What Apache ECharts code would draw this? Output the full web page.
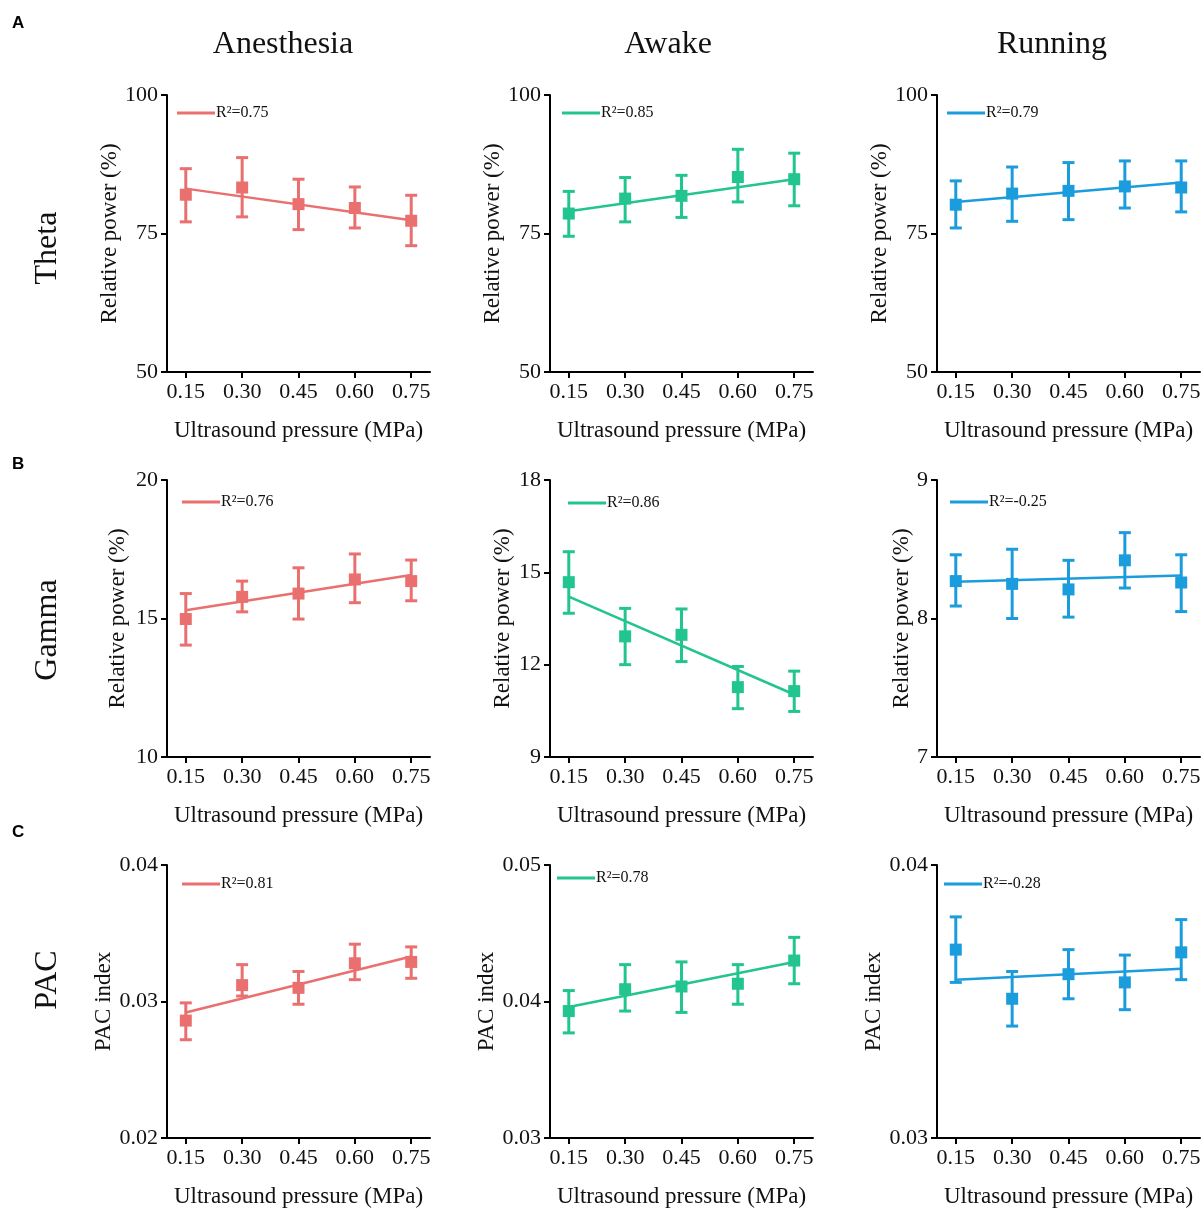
<!DOCTYPE html>
<html>
<head>
<meta charset="utf-8">
<script src="https://cdn.jsdelivr.net/npm/echarts@6/dist/echarts.min.js"></script>
<style>
html,body{margin:0;padding:0;background:#fff;}
#chart{width:1204px;height:1209px;}
</style>
</head>
<body>
<div id="chart"></div>
<script>
// ---------- data ----------
const xTicks = [0.15, 0.30, 0.45, 0.60, 0.75];
const colTitles = ['Anesthesia', 'Awake', 'Running'];
const rowTitles = ['Theta', 'Gamma', 'PAC'];
const panelLetters = ['A', 'B', 'C'];
const yAxisNames = ['Relative power (%)', 'Relative power (%)', 'PAC index'];

// Theta
const thetaAnesMean = [82.0, 83.3, 80.3, 79.6, 77.3];
const thetaAnesLow  = [77.1, 78.0, 75.7, 76.0, 72.8];
const thetaAnesHigh = [86.7, 88.7, 84.8, 83.4, 81.9];
const thetaAnesFit  = [83.1, 77.4];
const thetaAwakeMean = [78.6, 81.3, 81.8, 85.2, 84.8];
const thetaAwakeLow  = [74.5, 77.1, 77.9, 80.7, 80.0];
const thetaAwakeHigh = [82.6, 85.1, 85.5, 90.2, 89.5];
const thetaAwakeFit  = [79.0, 84.8];
const thetaRunMean = [80.2, 82.2, 82.7, 83.5, 83.3];
const thetaRunLow  = [76.0, 77.2, 77.5, 79.6, 78.9];
const thetaRunHigh = [84.5, 87.0, 87.8, 88.1, 88.1];
const thetaRunFit  = [80.7, 84.2];

// Gamma
const gammaAnesMean = [14.98, 15.78, 15.90, 16.41, 16.35];
const gammaAnesLow  = [14.04, 15.24, 14.98, 15.57, 15.64];
const gammaAnesHigh = [15.90, 16.35, 16.83, 17.33, 17.11];
const gammaAnesFit  = [15.30, 16.57];
const gammaAwakeMean = [14.68, 12.92, 12.97, 11.27, 11.14];
const gammaAwakeLow  = [13.67, 12.00, 12.10, 10.57, 10.48];
const gammaAwakeHigh = [15.67, 13.83, 13.81, 11.94, 11.79];
const gammaAwakeFit  = [14.21, 11.03];
const gammaRunMean = [8.27, 8.25, 8.21, 8.42, 8.26];
const gammaRunLow  = [8.09, 8.00, 8.01, 8.22, 8.05];
const gammaRunHigh = [8.46, 8.50, 8.42, 8.62, 8.46];
const gammaRunFit  = [8.265, 8.31];

// PAC
const pacAnesMean = [0.0286, 0.0312, 0.0310, 0.0328, 0.0329];
const pacAnesLow  = [0.0272, 0.0304, 0.0298, 0.0316, 0.0317];
const pacAnesHigh = [0.0299, 0.0327, 0.0322, 0.0342, 0.0340];
const pacAnesFit  = [0.0292, 0.0333];
const pacAwakeMean = [0.0393, 0.0409, 0.0411, 0.0413, 0.0430];
const pacAwakeLow  = [0.0377, 0.0393, 0.0392, 0.0398, 0.0413];
const pacAwakeHigh = [0.0408, 0.0427, 0.0429, 0.0427, 0.0447];
const pacAwakeFit  = [0.0396, 0.0429];
const pacRunMean = [0.0369, 0.0351, 0.0360, 0.0357, 0.0368];
const pacRunLow  = [0.0357, 0.0341, 0.0351, 0.0347, 0.0358];
const pacRunHigh = [0.0381, 0.0361, 0.0369, 0.0367, 0.0380];
const pacRunFit  = [0.0358, 0.0362];

// R² labels
const r2Labels = ['R²=0.75', 'R²=0.85', 'R²=0.79', 'R²=0.76', 'R²=0.86', 'R²=-0.25', 'R²=0.81', 'R²=0.78', 'R²=-0.28'];

// y-axis ranges / tick intervals
const yMins = [50, 50, 50, 10, 9, 7, 0.02, 0.03, 0.03];
const yMaxs = [100, 100, 100, 20, 18, 9, 0.04, 0.05, 0.04];
const yIntervals = [25, 25, 25, 5, 3, 1, 0.01, 0.01, 0.01];

// ---------- layout (styles/positions) ----------
const colors = ['#E9706E', '#22C48F', '#1B9CDC'];
const gridLefts = [167, 550, 937];
const gridTops = [95, 480, 865];
const gridW = 263, gridH = 277;
const nameGaps = [42, 42, 45, 38, 36, 24, 51, 52, 52];
const legendDx = [5, 7, 5, 10, 13, 8, 10, 2, 2];
const legendCy = [108, 108, 108, 497, 498, 497, 879, 873, 879];
const serif = 'Liberation Serif';

const panels = [
  [thetaAnesMean, thetaAnesLow, thetaAnesHigh, thetaAnesFit],
  [thetaAwakeMean, thetaAwakeLow, thetaAwakeHigh, thetaAwakeFit],
  [thetaRunMean, thetaRunLow, thetaRunHigh, thetaRunFit],
  [gammaAnesMean, gammaAnesLow, gammaAnesHigh, gammaAnesFit],
  [gammaAwakeMean, gammaAwakeLow, gammaAwakeHigh, gammaAwakeFit],
  [gammaRunMean, gammaRunLow, gammaRunHigh, gammaRunFit],
  [pacAnesMean, pacAnesLow, pacAnesHigh, pacAnesFit],
  [pacAwakeMean, pacAwakeLow, pacAwakeHigh, pacAwakeFit],
  [pacRunMean, pacRunLow, pacRunHigh, pacRunFit]
];

const grids = [], xAxes = [], yAxes = [], series = [], legends = [];

panels.forEach((p, i) => {
  const row = Math.floor(i / 3), col = i % 3;
  const color = colors[col];
  const [mean, low, high, fit] = p;
  grids.push({left: gridLefts[col], top: gridTops[row], width: gridW, height: gridH, containLabel: false});
  xAxes.push({
    gridIndex: i, type: 'value', min: 0.1, max: 0.8,
    name: 'Ultrasound pressure (MPa)', nameLocation: 'middle', nameGap: 47,
    nameTextStyle: {fontFamily: serif, fontSize: 23, color: '#111'},
    axisLine: {show: true, lineStyle: {color: '#000', width: 2}},
    axisTick: {show: true, length: 6, lineStyle: {color: '#000', width: 2}, customValues: xTicks},
    axisLabel: {show: true, customValues: xTicks, margin: 9, fontFamily: serif, fontSize: 22, color: '#111',
      formatter: v => v.toFixed(2)},
    splitLine: {show: false}
  });
  const isPac = row === 2;
  yAxes.push({
    gridIndex: i, type: 'value', min: yMins[i], max: yMaxs[i], interval: yIntervals[i],
    name: yAxisNames[row], nameLocation: 'middle', nameGap: nameGaps[i],
    nameTextStyle: {fontFamily: serif, fontSize: 23, color: '#111'},
    axisLine: {show: true, lineStyle: {color: '#000', width: 2}},
    axisTick: {show: true, length: 6, lineStyle: {color: '#000', width: 2}},
    axisLabel: {margin: 9, fontFamily: serif, fontSize: 22, color: '#111',
      formatter: v => isPac ? v.toFixed(2) : String(Math.round(v))},
    splitLine: {show: false}
  });
  // error bars
  series.push({
    type: 'custom', xAxisIndex: i, yAxisIndex: i, z: 2, silent: true,
    data: xTicks.map((x, k) => [x, low[k], high[k]]),
    encode: {x: 0, y: [1, 2]},
    renderItem: (params, api) => {
      const x = api.value(0);
      const pLo = api.coord([x, api.value(1)]);
      const pHi = api.coord([x, api.value(2)]);
      const w = 6;
      const st = {stroke: color, lineWidth: 3};
      return {type: 'group', children: [
        {type: 'line', shape: {x1: pLo[0], y1: pLo[1], x2: pHi[0], y2: pHi[1]}, style: st},
        {type: 'line', shape: {x1: pLo[0] - w, y1: pLo[1], x2: pLo[0] + w, y2: pLo[1]}, style: st},
        {type: 'line', shape: {x1: pHi[0] - w, y1: pHi[1], x2: pHi[0] + w, y2: pHi[1]}, style: st}
      ]};
    }
  });
  // regression line
  series.push({
    name: r2Labels[i], type: 'line', xAxisIndex: i, yAxisIndex: i, z: 3,
    data: [[xTicks[0], fit[0]], [xTicks[xTicks.length - 1], fit[1]]],
    symbol: 'none', lineStyle: {color: color, width: 2.5}, itemStyle: {color: color},
    silent: true, animation: false
  });
  // markers
  series.push({
    type: 'scatter', xAxisIndex: i, yAxisIndex: i, z: 4,
    data: xTicks.map((x, k) => [x, mean[k]]),
    symbol: 'rect', symbolSize: 12, itemStyle: {color: color, opacity: 1}, silent: true
  });
  legends.push({
    data: [r2Labels[i]], left: gridLefts[col] + legendDx[i], top: legendCy[i] - 8,
    icon: 'rect', itemWidth: 38, itemHeight: 3, selectedMode: false,
    textStyle: {fontFamily: serif, fontSize: 16, color: '#111', padding: [0, 0, 0, -4]}
  });
});

const graphics = [];
panelLetters.forEach((t, r) => {
  graphics.push({type: 'text', left: 12, top: [15, 456, 824][r],
    style: {text: t, font: 'bold 17px "Liberation Sans", Arial, sans-serif', fill: '#000'}});
});
colTitles.forEach((t, c) => {
  graphics.push({type: 'text', x: [283, 668, 1052][c], y: 45,
    style: {text: t, fontFamily: serif, fontSize: 32, fill: '#111', align: 'center', verticalAlign: 'middle'}});
});
rowTitles.forEach((t, r) => {
  graphics.push({type: 'text', x: 48, y: [248, 630, 980][r], rotation: Math.PI / 2,
    style: {text: t, fontFamily: serif, fontSize: 32, fill: '#111', align: 'center', verticalAlign: 'middle'}});
});

const chart = echarts.init(document.getElementById('chart'), null, {renderer: 'canvas'});
chart.setOption({
  backgroundColor: '#fff',
  animation: false,
  grid: grids, xAxis: xAxes, yAxis: yAxes, series: series, legend: legends,
  graphic: graphics
});
</script>
</body>
</html>
